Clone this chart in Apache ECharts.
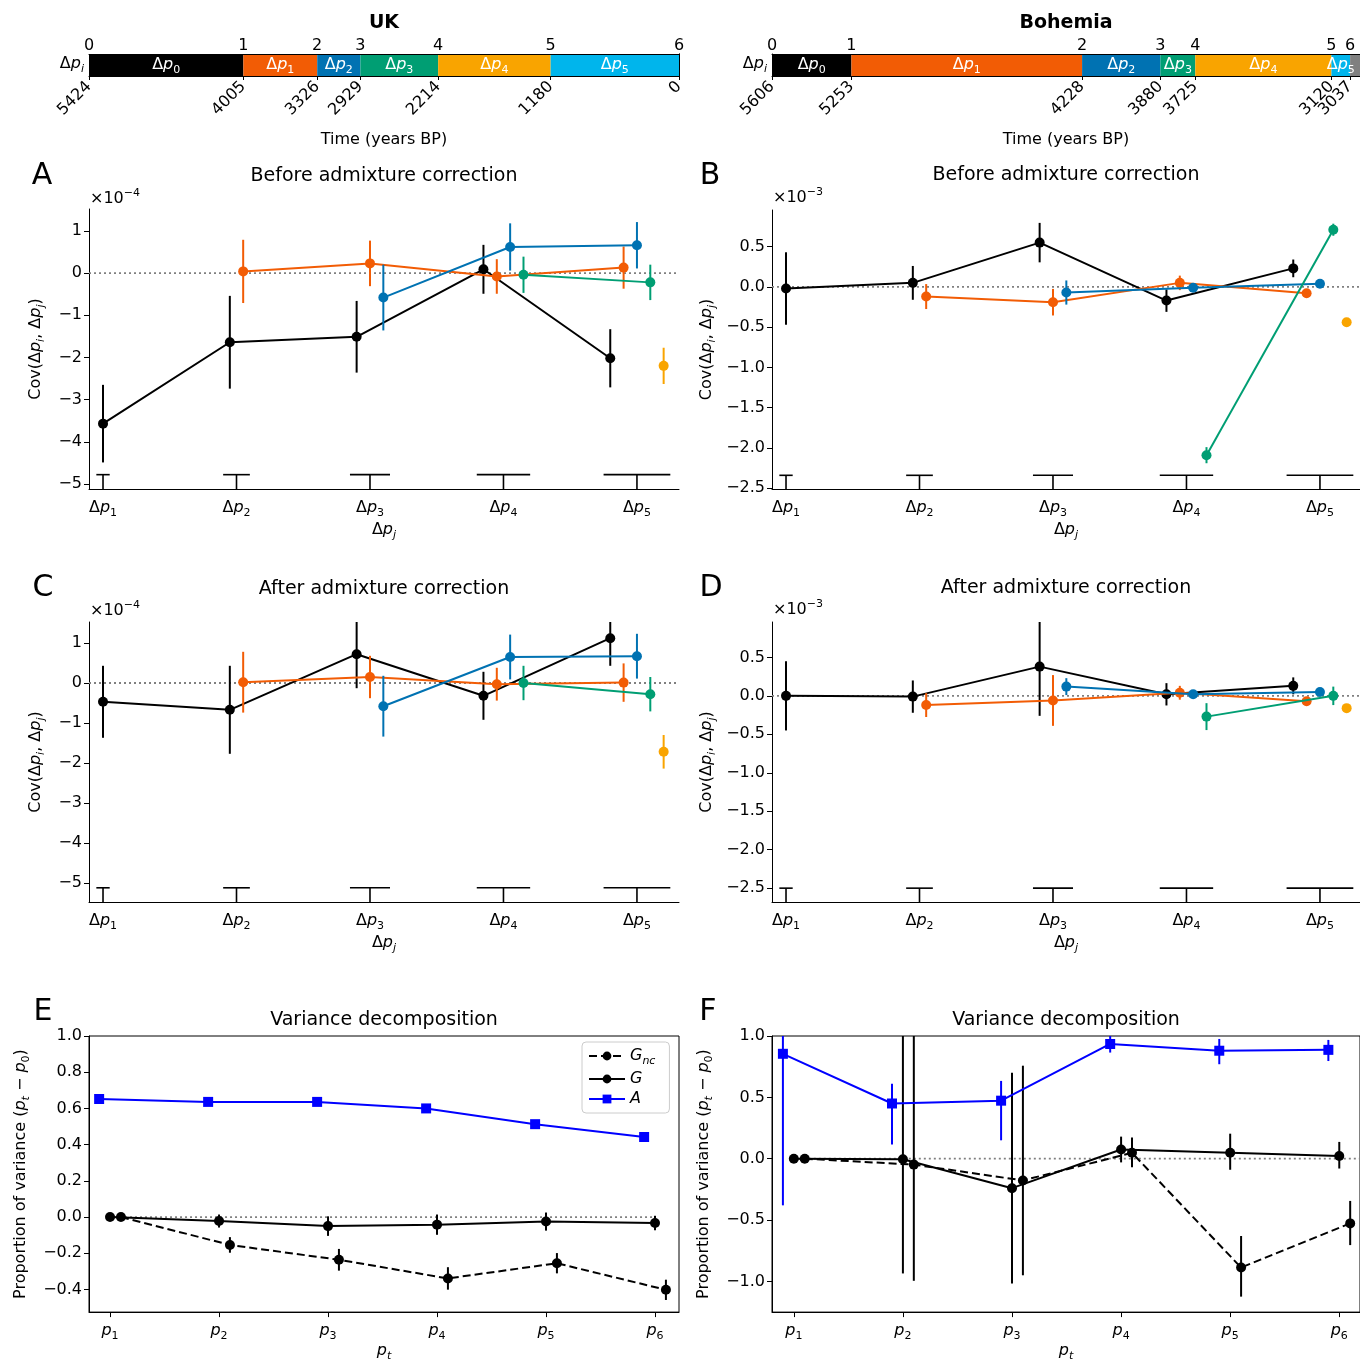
<!DOCTYPE html>
<html><head><meta charset="utf-8">
<script src="https://cdn.jsdelivr.net/npm/echarts@6/dist/echarts.min.js"></script>
<style>html,body{margin:0;padding:0;background:#fff}#c{width:1360px;height:1363px}</style>
</head><body><div id="c"></div>
<script>
// ================= DATA =================
const ukTimes = [5424, 4005, 3326, 2929, 2214, 1180, 0];
const bohTimes = [5606, 5253, 4228, 3880, 3725, 3120, 3037];
const lagTicks = [1, 2, 3, 4, 5];
const timeTicks = [1, 2, 3, 4, 5, 6];

// Cov(Δp_i, Δp_j); row i = 0..4, columns j = i+1..5
const ukBeforeCov = [[-3.57, -1.64, -1.51, 0.09, -2.02], [0.04, 0.23, -0.08, 0.13], [-0.58, 0.62, 0.66], [-0.04, -0.22], [-2.20]];
const ukBeforeErr = [[0.92, 1.10, 0.85, 0.58, 0.69], [0.75, 0.54, 0.41, 0.50], [0.78, 0.56, 0.55], [0.43, 0.42], [0.43]];
const bohBeforeCov = [[-0.02, 0.05, 0.55, -0.17, 0.23], [-0.12, -0.19, 0.05, -0.08], [-0.07, -0.01, 0.04], [-2.09, 0.71], [-0.44]];
const bohBeforeErr = [[0.45, 0.21, 0.245, 0.14, 0.11], [0.155, 0.165, 0.09, 0.04], [0.15, 0.05, 0.03], [0.10, 0.075], [0.02]];
const ukAfterCov = [[-0.47, -0.67, 0.72, -0.32, 1.12], [0.02, 0.15, -0.03, 0.01], [-0.58, 0.65, 0.67], [0.00, -0.28], [-1.72]];
const ukAfterErr = [[0.90, 1.10, 0.85, 0.60, 0.69], [0.76, 0.53, 0.41, 0.48], [0.76, 0.56, 0.56], [0.43, 0.43], [0.42]];
const bohAfterCov = [[0.00, -0.01, 0.38, 0.02, 0.13], [-0.12, -0.06, 0.04, -0.07], [0.12, 0.02, 0.05], [-0.27, 0.00], [-0.16]];
const bohAfterErr = [[0.45, 0.21, 0.64, 0.145, 0.11], [0.155, 0.33, 0.09, 0.04], [0.11, 0.05, 0.03], [0.175, 0.12], [0.02]];

// Variance decomposition
const ukVarA = [0.652, 0.636, 0.636, 0.600, 0.513, 0.442];
const ukVarAErr = [0.012, 0.012, 0.012, 0.012, 0.012, 0.012];
const ukVarG = [0, -0.022, -0.050, -0.042, -0.025, -0.033];
const ukVarGErr = [0, 0.036, 0.054, 0.056, 0.050, 0.040];
const ukVarGnc = [0, -0.154, -0.236, -0.339, -0.255, -0.402];
const ukVarGncErr = [0, 0.043, 0.060, 0.062, 0.056, 0.056];

const bohVarA = [0.855, 0.450, 0.473, 0.935, 0.880, 0.887];
const bohVarALo = [-0.38, 0.115, 0.150, 0.865, 0.770, 0.796];
const bohVarAHi = [1.10, 0.610, 0.634, 1.010, 0.976, 0.968];
const bohVarG = [0, -0.005, -0.240, 0.075, 0.048, 0.022];
const bohVarGLo = [0, -0.935, -1.016, -0.030, -0.090, -0.080];
const bohVarGHi = [0, 1.100, 0.700, 0.180, 0.204, 0.137];
const bohVarGnc = [0, -0.048, -0.177, 0.048, -0.887, -0.527];
const bohVarGncLo = [0, -0.995, -0.950, -0.070, -1.124, -0.704];
const bohVarGncHi = [0, 1.100, 0.758, 0.172, -0.630, -0.344];

// ================= STYLE =================
const F = 'DejaVu Sans';
const FS = 16;       // tick / label font size
const TS = 19;       // title font size
const segColors = ['#000000', '#F25C05', '#0072B2', '#009E73', '#F9A400', '#00B5EC'];
const rowColors = ['#000000', '#F25C05', '#0072B2', '#009E73', '#F9A400'];
const blueA = '#0000FF';
const greyCol = '#808080';

function richOpt(size, color) {
  const s = Math.round(size * 0.7);
  return {
    n: {fontSize: size, color, fontFamily: F, lineHeight: size + 6},
    i: {fontSize: size, color, fontFamily: F, fontStyle: 'italic', lineHeight: size + 6},
    s: {fontSize: s, color, fontFamily: F, verticalAlign: 'bottom', lineHeight: s},
    si: {fontSize: s, color, fontFamily: F, fontStyle: 'italic', verticalAlign: 'bottom', lineHeight: s},
    u: {fontSize: s, color, fontFamily: F, verticalAlign: 'top', lineHeight: s}
  };
}
function richZr(size, fill) {
  const s = Math.round(size * 0.7);
  return {
    n: {fontSize: size, fill, fontFamily: F, lineHeight: size + 6},
    i: {fontSize: size, fill, fontFamily: F, fontStyle: 'italic', lineHeight: size + 6},
    s: {fontSize: s, fill, fontFamily: F, verticalAlign: 'bottom', lineHeight: s},
    si: {fontSize: s, fill, fontFamily: F, fontStyle: 'italic', verticalAlign: 'bottom', lineHeight: s},
    u: {fontSize: s, fill, fontFamily: F, verticalAlign: 'top', lineHeight: s}
  };
}
const dp = sub => '{n|Δ}{i|p}{s|' + sub + '}';
const dpi = sub => '{n|Δ}{i|p}{si|' + sub + '}';
function fmtNum(v, dec) {
  const a = Math.abs(v) < 1e-9 ? 0 : v;
  return (a < 0 ? '\u2212' : '') + Math.abs(a).toFixed(dec);
}

const grids = [], xAxes = [], yAxes = [], series = [], graphics = [];
const axisLineStyle = {color: '#000', width: 1};

// ================= TIME BARS =================
function addTimeBar(times, axisEnd, left, width) {
  const gi = grids.length;
  grids.push({left, top: 54, width, height: 22});
  // time labels split over two axes (alternate boundaries) so none get auto-hidden
  [0, 1].forEach(par => {
    const vals = times.filter((t, k) => k % 2 === par);
    xAxes.push({gridIndex: gi, type: 'value', min: axisEnd, max: times[0], inverse: true, position: 'bottom', z: 10,
      axisLine: {show: par === 0, lineStyle: axisLineStyle}, splitLine: {show: false},
      axisTick: {show: true, customValues: vals, length: 4, lineStyle: {color: '#000'}},
      axisLabel: {customValues: vals, formatter: v => String(v), rotate: 45, fontSize: FS, fontFamily: F, color: '#000', margin: 8,
        showMinLabel: true, showMaxLabel: true, hideOverlap: false}});
  });
  xAxes.push({gridIndex: gi, type: 'value', min: axisEnd, max: times[0], inverse: true, position: 'top', z: 10,
    axisLine: {show: true, lineStyle: axisLineStyle}, splitLine: {show: false}, axisTick: {show: false},
    axisLabel: {customValues: times, formatter: v => String(times.indexOf(v)), fontSize: FS, fontFamily: F,
      color: '#000', margin: 0, showMinLabel: true, showMaxLabel: true, hideOverlap: false}});
  const xi = xAxes.length - 1;
  const yi = yAxes.length;
  yAxes.push({gridIndex: gi, type: 'value', min: 0, max: 1, position: 'left', z: 10,
    axisLine: {show: true, lineStyle: axisLineStyle}, axisTick: {show: false}, axisLabel: {show: false}, splitLine: {show: false}});
  yAxes.push({gridIndex: gi, type: 'value', min: 0, max: 1, position: 'right', z: 10,
    axisLine: {show: true, lineStyle: axisLineStyle}, axisTick: {show: false}, axisLabel: {show: false}, splitLine: {show: false}});
  const segs = times.slice(0, -1).map((t, k) => [t, times[k + 1], k]);
  if (axisEnd !== times[times.length - 1]) segs.push([times[times.length - 1], axisEnd, -1]);
  const rz = richZr(FS, '#fff');
  series.push({type: 'custom', xAxisIndex: xi, yAxisIndex: yi, silent: true, z: 2,
    data: segs,
    renderItem: (params, api) => {
      const t0 = api.value(0), t1 = api.value(1), k = api.value(2);
      const p0 = api.coord([t0, 1]), p1 = api.coord([t1, 0]);
      const x = Math.min(p0[0], p1[0]), w = Math.abs(p1[0] - p0[0]);
      const y = Math.min(p0[1], p1[1]), h = Math.abs(p1[1] - p0[1]);
      const ch = [{type: 'rect', z2: 1, shape: {x, y, width: w, height: h}, style: {fill: k < 0 ? greyCol : segColors[k]}}];
      if (k >= 0) ch.push({type: 'text', z2: 20, style: {text: dp(k), x: x + w / 2, y: y + h / 2, align: 'center', verticalAlign: 'middle', rich: rz}});
      return {type: 'group', children: ch};
    }});
}
addTimeBar(ukTimes, 0, 89, 590);
addTimeBar(bohTimes, 2993, 772, 588);

// ================= HELPERS =================
function errRenderer(color, yMin, yMax) {
  return (params, api) => {
    const x = api.value(0);
    const lo = Math.max(api.value(1), yMin), hi = Math.min(api.value(2), yMax);
    if (hi - lo <= 1e-9) return null;
    const a = api.coord([x, lo]), b = api.coord([x, hi]);
    return {type: 'line', shape: {x1: a[0], y1: a[1], x2: b[0], y2: b[1]}, style: {stroke: color, lineWidth: 2}};
  };
}
function tRenderer(tLevel, yMin) {
  return (params, api) => {
    const j = api.value(0);
    const l = api.coord([j - 0.05 * j, tLevel]), r = api.coord([j + 0.05 * j, tLevel]);
    const c = api.coord([j, tLevel]), b = api.coord([j, yMin]);
    return {type: 'group', children: [
      {type: 'line', shape: {x1: l[0], y1: l[1], x2: r[0], y2: r[1]}, style: {stroke: '#000', lineWidth: 1.6}},
      {type: 'line', shape: {x1: c[0], y1: c[1], x2: b[0], y2: b[1]}, style: {stroke: '#000', lineWidth: 1.6}}
    ]};
  };
}

function addAxes(c, xCfg, yCfg) {
  const gi = grids.length;
  grids.push(Object.assign({left: c.left, top: c.top, width: c.width, height: c.height}, c.box ? {show: true, borderColor: '#000', borderWidth: 1} : {}));
  const xi = xAxes.length, yi = yAxes.length;
  xAxes.push(Object.assign({gridIndex: gi, type: 'value', min: c.xMin, max: c.xMax,
    axisLine: {show: true, onZero: false, lineStyle: axisLineStyle}, splitLine: {show: false}}, xCfg));
  yAxes.push(Object.assign({gridIndex: gi, type: 'value', min: c.yMin, max: c.yMax,
    axisLine: {show: true, lineStyle: axisLineStyle}, splitLine: {show: false},
    axisTick: {show: true, customValues: c.ticks, length: 5, lineStyle: {color: '#000'}},
    axisLabel: {customValues: c.ticks, formatter: v => fmtNum(v, c.dec), fontSize: FS, fontFamily: F, color: '#000', margin: 7}},
    yCfg));
  return {xi, yi};
}

// ================= COVARIANCE PANELS =================
function addCovPanel(c) {
  const {xi, yi} = addAxes(c, {
    axisTick: {show: false},
    axisLabel: {customValues: lagTicks, formatter: v => dp(v), rich: richOpt(FS, '#000'), margin: 8},
    name: dpi('j'), nameLocation: 'middle', nameGap: 30, nameTextStyle: {rich: richOpt(FS, '#000')}
  }, {
    name: '{n|Cov(Δ}{i|p}{si|i}{n|, Δ}{i|p}{si|j}{n|)}', nameLocation: 'middle', nameRotate: 90, nameGap: c.nameGap,
    nameTextStyle: {rich: richOpt(FS, '#000')}
  });
  // zero reference line
  series.push({type: 'line', xAxisIndex: xi, yAxisIndex: yi, silent: true, symbol: 'none', z: 1,
    data: [[c.xMin, 0], [c.xMax, 0]], lineStyle: {color: greyCol, type: [2, 3], width: 1.8}});
  // T markers at bottom
  series.push({type: 'custom', xAxisIndex: xi, yAxisIndex: yi, silent: true, z: 1, clip: false,
    data: lagTicks.map(j => [j, c.tLevel]), renderItem: tRenderer(c.tLevel, c.yMin)});
  c.cov.forEach((row, i) => {
    const pts = row.map((v, k) => { const j = i + 1 + k; return [j + (2 * i - j + 1) * 0.05, v, c.err[i][k]]; });
    series.push({type: 'custom', xAxisIndex: xi, yAxisIndex: yi, silent: true, z: 3 + 2 * i,
      data: pts.map(p => [p[0], p[1] - p[2], p[1] + p[2]]), renderItem: errRenderer(rowColors[i], c.yMin, c.yMax)});
    series.push({type: 'line', xAxisIndex: xi, yAxisIndex: yi, silent: true, z: 4 + 2 * i,
      data: pts.map(p => [p[0], p[1]]), symbol: 'circle', symbolSize: 10, showSymbol: true,
      itemStyle: {color: rowColors[i]}, lineStyle: {color: rowColors[i], width: 2}});
  });
}

addCovPanel({left: 89, top: 209, width: 590, height: 280, xMin: 0.895, xMax: 5.315, yMin: -5.12, yMax: 1.52,
  ticks: [-5, -4, -3, -2, -1, 0, 1], dec: 0, tLevel: -4.78, cov: ukBeforeCov, err: ukBeforeErr, nameGap: 42});
addCovPanel({left: 772, top: 210, width: 588, height: 279, xMin: 0.895, xMax: 5.3, yMin: -2.51, yMax: 0.955,
  ticks: [-2.5, -2, -1.5, -1, -0.5, 0, 0.5], dec: 1, tLevel: -2.34, cov: bohBeforeCov, err: bohBeforeErr, nameGap: 54});
addCovPanel({left: 89, top: 622, width: 590, height: 280, xMin: 0.895, xMax: 5.315, yMin: -5.475, yMax: 1.525,
  ticks: [-5, -4, -3, -2, -1, 0, 1], dec: 0, tLevel: -5.12, cov: ukAfterCov, err: ukAfterErr, nameGap: 42});
addCovPanel({left: 772, top: 622, width: 588, height: 280, xMin: 0.895, xMax: 5.3, yMin: -2.68, yMax: 0.96,
  ticks: [-2.5, -2, -1.5, -1, -0.5, 0, 0.5], dec: 1, tLevel: -2.5, cov: bohAfterCov, err: bohAfterErr, nameGap: 54});

// ================= VARIANCE PANELS =================
function addVarPanel(c) {
  const {xi, yi} = addAxes(c, {
    axisTick: {show: true, customValues: timeTicks, length: 5, lineStyle: {color: '#000'}},
    axisLabel: {customValues: timeTicks, formatter: v => '{i|p}{s|' + v + '}', rich: richOpt(FS, '#000'), margin: 8},
    name: '{i|p}{si|t}', nameLocation: 'middle', nameGap: 27, nameTextStyle: {rich: richOpt(FS, '#000')}
  }, {
    name: '{n|Proportion of variance (}{i|p}{si|t}{n| \u2212 }{i|p}{s|0}{n|)}', nameLocation: 'middle', nameRotate: 90, nameGap: c.nameGap,
    nameTextStyle: {rich: richOpt(FS, '#000')}
  });
  series.push({type: 'line', xAxisIndex: xi, yAxisIndex: yi, silent: true, symbol: 'none', z: 1,
    data: [[1, 0], [c.zeroEnd, 0]], lineStyle: {color: greyCol, type: [2, 3], width: 1.8}});
  const defs = [
    {name: c.prefix + 'G_nc', vals: c.gnc, lo: c.gncLo, hi: c.gncHi, off: 0.1, color: '#000', symbol: 'circle', dash: [8, 4]},
    {name: c.prefix + 'G', vals: c.g, lo: c.gLo, hi: c.gHi, off: 0, color: '#000', symbol: 'circle', dash: 'solid'},
    {name: c.prefix + 'A', vals: c.a, lo: c.aLo, hi: c.aHi, off: -0.1, color: blueA, symbol: 'rect', dash: 'solid'}
  ];
  defs.forEach((d, n) => {
    const xs = timeTicks.map(t => t + d.off);
    series.push({type: 'custom', xAxisIndex: xi, yAxisIndex: yi, silent: true, z: 3 + 2 * n,
      data: xs.map((x, k) => [x, d.lo[k], d.hi[k]]), renderItem: errRenderer(d.color, c.yMin, c.yMax)});
    series.push({type: 'line', name: d.name, xAxisIndex: xi, yAxisIndex: yi, silent: true, z: 4 + 2 * n,
      data: xs.map((x, k) => [x, d.vals[k]]), symbol: d.symbol, symbolSize: 10, showSymbol: true,
      itemStyle: {color: d.color}, lineStyle: {color: d.color, width: 2, type: d.dash}});
  });
}
addVarPanel({left: 89, top: 1036, width: 590, height: 279, xMin: 0.807, xMax: 6.22, yMin: -0.525, yMax: 1.0, box: true,
  ticks: [-0.4, -0.2, 0, 0.2, 0.4, 0.6, 0.8, 1.0], dec: 1, nameGap: 57, zeroEnd: 6, prefix: '',
  a: ukVarA, aLo: ukVarA.map((v, k) => v - ukVarAErr[k]), aHi: ukVarA.map((v, k) => v + ukVarAErr[k]),
  g: ukVarG, gLo: ukVarG.map((v, k) => v - ukVarGErr[k]), gHi: ukVarG.map((v, k) => v + ukVarGErr[k]),
  gnc: ukVarGnc, gncLo: ukVarGnc.map((v, k) => v - ukVarGncErr[k]), gncHi: ukVarGnc.map((v, k) => v + ukVarGncErr[k])});
addVarPanel({left: 772, top: 1036, width: 588, height: 279, xMin: 0.8, xMax: 6.19, yMin: -1.25, yMax: 1.0, box: true,
  ticks: [-1, -0.5, 0, 0.5, 1.0], dec: 1, nameGap: 57, zeroEnd: 6.19, prefix: 'Bohemia ',
  a: bohVarA, aLo: bohVarALo, aHi: bohVarAHi,
  g: bohVarG, gLo: bohVarGLo, gHi: bohVarGHi,
  gnc: bohVarGnc, gncLo: bohVarGncLo, gncHi: bohVarGncHi});

// ================= TEXTS =================
function gText(x, y, text, o) {
  return {type: 'text', x, y, silent: true, z: 50,
    style: Object.assign({text, fill: '#000', fontFamily: F, fontSize: TS, align: 'center', verticalAlign: 'middle'}, o || {})};
}
graphics.push(gText(384, 23, 'UK', {fontWeight: 'bold'}));
graphics.push(gText(1066, 23, 'Bohemia', {fontWeight: 'bold'}));
graphics.push(gText(384, 140, 'Time (years BP)', {fontSize: FS}));
graphics.push(gText(1066, 140, 'Time (years BP)', {fontSize: FS}));
graphics.push(gText(84, 64, dpi('i'), {align: 'right', rich: richZr(FS, '#000')}));
graphics.push(gText(767, 64, dpi('i'), {align: 'right', rich: richZr(FS, '#000')}));
[['A', 42, 176], ['B', 710, 176], ['C', 43, 588], ['D', 711, 588], ['E', 43, 1012], ['F', 708, 1012]]
  .forEach(p => graphics.push(gText(p[1], p[2], p[0], {fontSize: 30})));
graphics.push(gText(384, 176, 'Before admixture correction'));
graphics.push(gText(1066, 175, 'Before admixture correction'));
graphics.push(gText(384, 589, 'After admixture correction'));
graphics.push(gText(1066, 588, 'After admixture correction'));
graphics.push(gText(384, 1020, 'Variance decomposition'));
graphics.push(gText(1066, 1020, 'Variance decomposition'));
graphics.push(gText(90, 199, '{n|×10}{u|\u22124}', {align: 'left', rich: richZr(FS, '#000')}));
graphics.push(gText(773, 198, '{n|×10}{u|\u22123}', {align: 'left', rich: richZr(FS, '#000')}));
graphics.push(gText(90, 611, '{n|×10}{u|\u22124}', {align: 'left', rich: richZr(FS, '#000')}));
graphics.push(gText(773, 610, '{n|×10}{u|\u22123}', {align: 'left', rich: richZr(FS, '#000')}));

const option = {
  animation: false,
  backgroundColor: '#fff',
  textStyle: {fontFamily: F, color: '#000'},
  grid: grids, xAxis: xAxes, yAxis: yAxes, series,
  graphic: graphics,
  legend: {data: ['G_nc', 'G', 'A'], left: 582, top: 1042, orient: 'vertical', itemWidth: 36, itemHeight: 11, itemGap: 4,
    padding: [6, 14, 6, 6], borderColor: '#cccccc', borderWidth: 1, borderRadius: 4, backgroundColor: 'rgba(255,255,255,0.8)',
    selectedMode: false,
    formatter: n => n === 'G_nc' ? '{i|G}{si|nc}' : '{i|' + n + '}',
    textStyle: {fontSize: FS, fontFamily: F, rich: richOpt(FS, '#000')}}
};
const chart = echarts.init(document.getElementById('c'), null, {renderer: 'canvas'});
chart.setOption(option);
</script></body></html>
